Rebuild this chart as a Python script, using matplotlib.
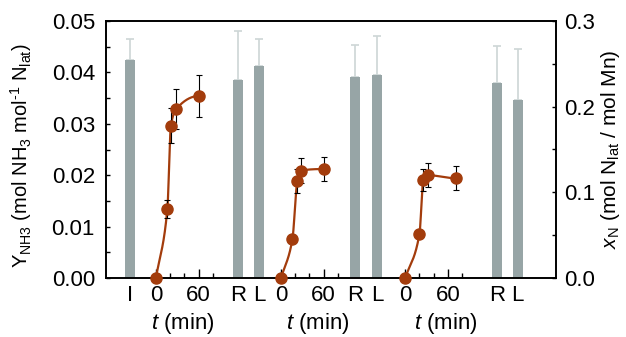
import numpy as np
import matplotlib
matplotlib.use("Agg")
import matplotlib.pyplot as plt
from matplotlib.ticker import MultipleLocator, FixedLocator

plt.rcParams['font.family'] = ['Liberation Sans', 'DejaVu Sans']
plt.rcParams['mathtext.fontset'] = 'custom'
plt.rcParams['mathtext.rm'] = 'Liberation Sans'
plt.rcParams['mathtext.it'] = 'Liberation Sans:italic'

# ---------------- data ----------------
# time-course series (t in min, Y_NH3 in mol NH3 / mol N_lat)
t1 = [0, 16, 21, 28, 60]
y1 = [0.0, 0.0134, 0.0296, 0.0328, 0.0354]
e1 = [0.0, 0.0017, 0.0034, 0.0039, 0.0040]

t2 = [0, 16, 23, 28, 60]
y2 = [0.0, 0.0075, 0.0189, 0.0209, 0.0212]
e2 = [0.0, 0.0005, 0.0023, 0.0024, 0.0024]

t3 = [0, 20, 25.5, 31.5, 72]
y3 = [0.0, 0.0086, 0.0191, 0.0200, 0.0194]
e3 = [0.0, 0.0003, 0.0021, 0.0023, 0.0023]

# bars: x_N (mol N_lat / mol Mn) on right axis
bar_labels = ['I', 'R', 'L', 'R', 'L', 'R', 'L']
bar_values = [0.254, 0.231, 0.2475, 0.2346, 0.2366, 0.2272, 0.2082]
bar_err = [0.0246, 0.057, 0.031, 0.037, 0.046, 0.044, 0.059]

# ---------------- layout ----------------
sec_origin = [70.4, 246.5, 421.5]          # x position of t = 0 for each section
bar_pos = [33.4, 185.9, 215.5, 350.3, 381.7, 550.3, 579.9]
bar_width = 13.5
tlabel_fig_x = [183 / 626, 317.5 / 626, 445.7 / 626]

c_pt = '#a33c0c'
c_bar = '#97a5a6'
c_barerr = '#cdd6d6'
fs_tick = 16
fs_lab = 14.5


def pchip(x, y, xn):
    x = np.asarray(x, float); y = np.asarray(y, float)
    h = np.diff(x); d = np.diff(y) / h
    n = len(x)
    m = np.zeros(n)
    for k in range(1, n - 1):
        if d[k - 1] * d[k] <= 0:
            m[k] = 0
        else:
            w1 = 2 * h[k] + h[k - 1]; w2 = h[k] + 2 * h[k - 1]
            m[k] = (w1 + w2) / (w1 / d[k - 1] + w2 / d[k])
    m[0] = d[0]
    m[-1] = 0.0
    out = np.empty_like(xn)
    for i, xv in enumerate(xn):
        k = min(np.searchsorted(x, xv, side='right') - 1, n - 2)
        k = max(k, 0)
        s = (xv - x[k]) / h[k]
        h00 = 2 * s**3 - 3 * s**2 + 1
        h10 = s**3 - 2 * s**2 + s
        h01 = -2 * s**3 + 3 * s**2
        h11 = s**3 - s**2
        out[i] = h00 * y[k] + h10 * h[k] * m[k] + h01 * y[k + 1] + h11 * h[k] * m[k + 1]
    return out


fig = plt.figure(figsize=(6.26, 3.37), dpi=100)
ax = fig.add_axes([106 / 626, 1 - 278 / 337, 450 / 626, 257 / 337])
ax2 = ax.twinx()

# bars on the right axis
ax2.bar(bar_pos, bar_values, width=bar_width, color=c_bar, zorder=2)
ax2.errorbar(bar_pos, bar_values, yerr=[np.zeros(len(bar_err)), bar_err],
             fmt='none', ecolor=c_barerr, elinewidth=1.2, capsize=3, capthick=1.2, zorder=1)
ax2.set_ylim(0, 0.3)

ax.set_zorder(ax2.get_zorder() + 1)
ax.patch.set_visible(False)

# time courses on the left axis
for off, t, y, e in zip(sec_origin, [t1, t2, t3], [y1, y2, y3], [e1, e2, e3]):
    tt = np.linspace(min(t), max(t), 300)
    ax.plot(off + tt, pchip(t, y, tt), color=c_pt, lw=1.6, zorder=3, clip_on=False)
    ax.errorbar(off + np.array(t), y, yerr=e, fmt='none', ecolor='black',
                elinewidth=0.8, capsize=2.5, capthick=0.8, zorder=4, clip_on=False)
    ax.plot(off + np.array(t), y, 'o', color=c_pt, ms=8, zorder=5, clip_on=False)

ax.set_xlim(0, 450 / 0.71)
ax.set_ylim(0, 0.05)

# x ticks: 0 / 60 major per section + I/R/L labels (no tick lines)
major_pos = []
major_lab = []
for off in sec_origin:
    major_pos += [off, off + 60]
    major_lab += ['0', '60']
all_pos = major_pos + bar_pos
all_lab = major_lab + bar_labels
ax.set_xticks(all_pos)
ax.set_xticklabels(all_lab)
minor = []
for off in sec_origin:
    minor += [off + 20, off + 40, off + 80]
ax.xaxis.set_minor_locator(FixedLocator(minor))
for i, tk in enumerate(ax.xaxis.get_major_ticks()):
    if i >= len(major_pos):
        tk.tick1line.set_visible(False)
        tk.tick2line.set_visible(False)

ax.tick_params(axis='x', which='major', direction='in', length=6.5, width=1, labelsize=fs_tick, pad=5, top=False)
ax.tick_params(axis='x', which='minor', direction='in', length=3.5, width=1, top=False)

ax.yaxis.set_major_locator(MultipleLocator(0.01))
ax.yaxis.set_minor_locator(MultipleLocator(0.005))
ax.yaxis.set_major_formatter(matplotlib.ticker.FormatStrFormatter('%.2f'))
ax.tick_params(axis='y', which='both', direction='in', length=3, width=1, labelsize=fs_tick, pad=8, right=False)

ax2.yaxis.set_major_locator(MultipleLocator(0.1))
ax2.yaxis.set_minor_locator(MultipleLocator(0.05))
ax2.yaxis.set_major_formatter(matplotlib.ticker.FormatStrFormatter('%.1f'))
ax2.tick_params(axis='y', which='both', direction='in', length=3, width=1, labelsize=fs_tick, pad=6)

for a in (ax, ax2):
    for s in a.spines.values():
        s.set_linewidth(1.2)

ax.set_ylabel(r'Y$_{\mathrm{NH3}}$ (mol NH$_3$ mol$^{\text{-1}}$ N$_{\mathrm{lat}}$)', fontsize=fs_lab)
ax.yaxis.set_label_coords(-0.16, 0.475)
ax2.set_ylabel(r'$x_{\mathrm{N}}$ (mol N$_{\mathrm{lat}}$ / mol Mn)', fontsize=fs_lab + 0.5, labelpad=3)

for fx in tlabel_fig_x:
    fig.text(fx, 1 - 323 / 337, r'$t$ (min)', fontsize=fs_tick, ha='center', va='center')

fig.savefig('out.png', dpi=100)
